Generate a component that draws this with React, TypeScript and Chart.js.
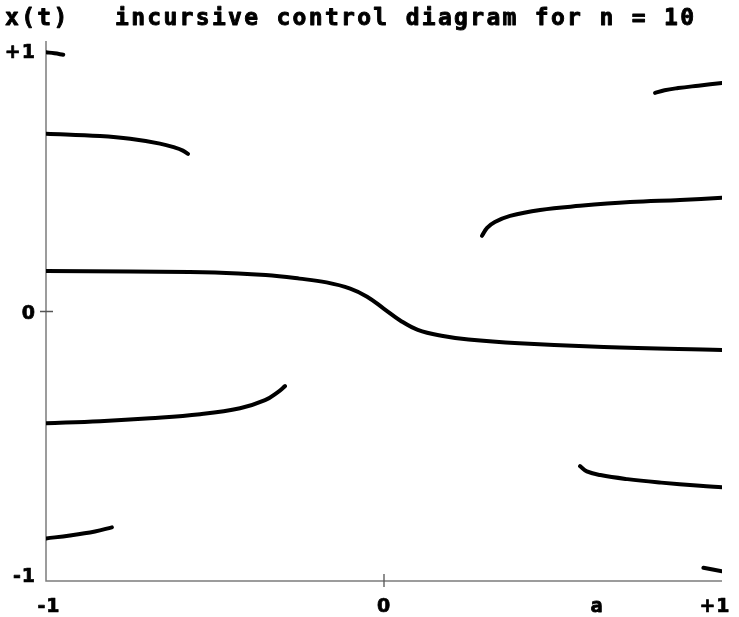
import { useEffect, useRef } from "react";
import { Chart, registerables } from "chart.js";

Chart.register(...registerables);

const W = 739;
const H = 617;

// Branches of x(t) plotted against the control parameter a
const topLeftA = [-1, -0.975, -0.949];
const topLeftX = [0.962, 0.958, 0.953];

const upperLeftA = [-1, -0.84, -0.751, -0.663, -0.618, -0.595, -0.58];
const upperLeftX = [0.66, 0.651, 0.641, 0.623, 0.608, 0.597, 0.585];

const centralA = [-1, -0.75, -0.5, -0.35, -0.25, -0.17, -0.1, -0.05, 0, 0.05, 0.1, 0.17, 0.25, 0.4, 0.65, 1];
const centralX = [0.15, 0.148, 0.145, 0.135, 0.122, 0.108, 0.085, 0.055, 0.01, -0.035, -0.068, -0.09, -0.104, -0.118, -0.132, -0.143];

const lowerLeftA = [-1, -0.84, -0.692, -0.544, -0.426, -0.352, -0.314, -0.293];
const lowerLeftX = [-0.415, -0.407, -0.396, -0.381, -0.359, -0.329, -0.299, -0.277];

const bottomLeftA = [-1, -0.929, -0.855, -0.805];
const bottomLeftX = [-0.842, -0.831, -0.816, -0.801];

const topRightA = [0.802, 0.83, 0.87, 0.93, 1];
const topRightX = [0.811, 0.821, 0.829, 0.838, 0.848];

const upperRightA = [0.29, 0.305, 0.328, 0.373, 0.462, 0.58, 0.728, 0.876, 1];
const upperRightX = [0.281, 0.31, 0.332, 0.355, 0.377, 0.392, 0.406, 0.414, 0.422];

const lowerRightA = [0.58, 0.6, 0.64, 0.72, 0.82, 0.935, 1];
const lowerRightX = [-0.574, -0.593, -0.607, -0.622, -0.635, -0.647, -0.652];

const bottomRightA = [0.945, 1];
const bottomRightX = [-0.951, -0.964];

const branches: [number[], number[]][] = [
  [topLeftA, topLeftX],
  [upperLeftA, upperLeftX],
  [centralA, centralX],
  [lowerLeftA, lowerLeftX],
  [bottomLeftA, bottomLeftX],
  [topRightA, topRightX],
  [upperRightA, upperRightX],
  [lowerRightA, lowerRightX],
  [bottomRightA, bottomRightX],
];

// Axis tick labels
const yTickValues = [1, 0, -1];
const yTickLabels = ["+1", "0", "-1"];
const xTickValues = [-1, 0, 1];
const xTickLabels = ["-1", "0", "+1"];

const titleLeft = "x(t)";
const titleMain = "incursive control diagram for n = 10";
const xAxisName = "a";

const MONO = '"DejaVu Sans Mono", monospace';
const SANS = '"DejaVu Sans", sans-serif';

function heavyText(ctx: CanvasRenderingContext2D, text: string, x: number, y: number, w: number) {
  ctx.lineWidth = w;
  ctx.lineJoin = "round";
  ctx.strokeText(text, x, y);
  ctx.fillText(text, x, y);
}

const framePlugin = {
  id: "frame",
  beforeDatasetsDraw(chart: any) {
    const { ctx } = chart;
    const xs = chart.scales.x;
    const ys = chart.scales.y;
    const left = xs.getPixelForValue(-1);
    const right = xs.getPixelForValue(1);
    const top = ys.getPixelForValue(1);
    const bottom = ys.getPixelForValue(-1);
    const x0 = xs.getPixelForValue(0);
    const y0 = ys.getPixelForValue(0);
    ctx.save();
    ctx.strokeStyle = "#7c7c7c";
    ctx.lineWidth = 1.5;
    ctx.beginPath();
    ctx.moveTo(left, top - 1);
    ctx.lineTo(left, bottom);
    ctx.lineTo(right, bottom);
    ctx.stroke();
    ctx.strokeStyle = "#555";
    ctx.lineWidth = 1.3;
    ctx.beginPath();
    ctx.moveTo(left - 6, y0);
    ctx.lineTo(left + 7, y0);
    ctx.moveTo(x0, bottom - 7);
    ctx.lineTo(x0, bottom + 6);
    ctx.stroke();
    ctx.restore();
  },
  afterDraw(chart: any) {
    const { ctx } = chart;
    const xs = chart.scales.x;
    const ys = chart.scales.y;
    const left = xs.getPixelForValue(-1);
    const right = xs.getPixelForValue(1);
    const bottom = ys.getPixelForValue(-1);
    ctx.save();
    ctx.fillStyle = "#000";
    ctx.strokeStyle = "#000";
    ctx.textBaseline = "alphabetic";

    // title line
    ctx.font = `bold 23px ${MONO}`;
    (ctx as any).letterSpacing = "2.3px";
    ctx.textAlign = "left";
    heavyText(ctx, titleLeft, 5, 25, 0.9);
    heavyText(ctx, titleMain, 115, 25, 0.9);

    // tick labels
    ctx.font = `bold 19px ${SANS}`;
    (ctx as any).letterSpacing = "1px";
    ctx.textAlign = "right";
    yTickValues.forEach((v, i) => {
      const off = v > 0 ? 9 : v < 0 ? -6 : 0;
      heavyText(ctx, yTickLabels[i], left - 10, ys.getPixelForValue(v) + off + 7, 0.7);
    });
    ctx.textAlign = "center";
    xTickValues.forEach((v, i) => {
      const off = v < 0 ? 3 : v > 0 ? -7 : 0;
      heavyText(ctx, xTickLabels[i], xs.getPixelForValue(v) + off, bottom + 31, 0.7);
    });
    ctx.font = `bold 20px ${MONO}`;
    heavyText(ctx, xAxisName, right - 125, bottom + 31, 0.8);
    ctx.restore();
  },
};

export default function App() {
  const ref = useRef<HTMLCanvasElement | null>(null);

  useEffect(() => {
    if (!ref.current) return;
    const chart = new Chart(ref.current, {
      type: "scatter",
      data: {
        datasets: branches.map(([a, xv]) => ({
          data: a.map((v, i) => ({ x: v, y: xv[i] })),
          showLine: true,
          pointRadius: 0,
          borderColor: "#000",
          borderWidth: 4,
          borderCapStyle: "round" as const,
          tension: 0.4,
          fill: false,
        })),
      },
      options: {
        responsive: false,
        animation: false,
        devicePixelRatio: 1,
        layout: { padding: { left: 46, right: 17, top: 42, bottom: 36 } },
        plugins: { legend: { display: false }, tooltip: { enabled: false }, title: { display: false } },
        scales: {
          x: { type: "linear", min: -1, max: 1, display: false },
          y: { type: "linear", min: -1, max: 1, display: false },
        },
      },
      plugins: [framePlugin],
    });
    return () => chart.destroy();
  }, []);

  return (
    <div style={{ position: "fixed", left: 0, top: 0, width: W, height: H, background: "#fff" }}>
      <canvas ref={ref} width={W} height={H} style={{ display: "block", width: W, height: H }} />
    </div>
  );
}
